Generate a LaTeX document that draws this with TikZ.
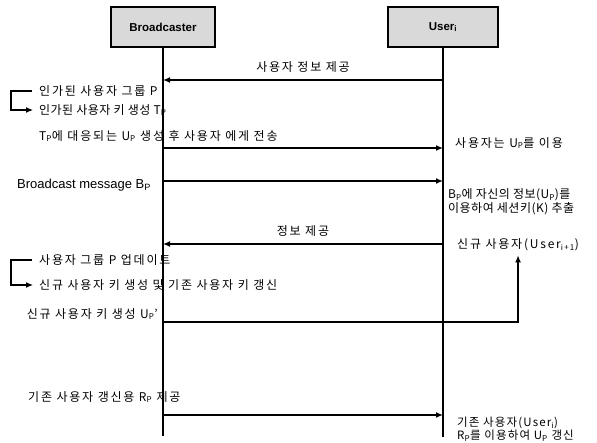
\documentclass[tikz,border=0pt]{standalone}
\usepackage{fontspec}
\setmainfont[LetterSpace=15]{Noto Sans CJK KR}
\newfontfamily\boxfont{Liberation Sans}
\usetikzlibrary{arrows.meta}

\begin{document}
\begin{tikzpicture}[x=1pt,y=-1pt,
    font=\fontsize{12}{12}\selectfont,
    actor/.style={draw, line width=1.3pt, fill=gray!30, minimum height=40pt,
      font=\boxfont\bfseries\fontsize{11.5}{13}\selectfont},
    life/.style={line width=1.1pt},
    msg/.style={line width=1.5pt, -{Latex[length=7pt,width=6pt]}},
    txt/.style={anchor=west, inner sep=0pt},
    tight/.style={font=\fontsize{12}{12}\selectfont\addfontfeature{LetterSpace=4}}]
    \useasboundingbox (0,0) rectangle (597,442);
    % participants
    \node[actor, minimum width=104pt] (bc) at (163,27) {Broadcaster};
    \node[actor, minimum width=110pt] (us) at (443,27) {User\textsubscript{i}};
    \coordinate (bend) at (163,436);
    \coordinate (uend) at (443,437);
    \draw[life] (bc) -- (bend);
    \draw[life] (us) -- (uend);
    % user info
    \coordinate (u1) at (443,80);
    \coordinate (b1) at (163,80);
    \draw[msg] (u1) -- (b1) node[midway, above=3pt] (m1) {사용자 정보 제공};
    \node[txt] (g1) at (39,91) {인가된 사용자 그룹 P};
    \node[txt, tight] (g2) at (39,110) {인가된 사용자 키 생성 T\textsubscript{P}};
    \draw[msg, line width=1.2pt] (g1.west) ++(-7,0) -- ++(-21,0) |- ([xshift=-6pt]g2.west);
    % send U_P
    \node[txt] (t3) at (39,136) {T\textsubscript{P}에 대응되는 U\textsubscript{P} 생성 후 사용자 에게 전송};
    \coordinate (b3) at (163,148);
    \coordinate (u3) at (443,148);
    \draw[msg] (b3) -- (u3);
    \node[txt] (r3) at (455,143) {사용자는 U\textsubscript{P}를 이용};
    % broadcast
    \node[txt, font=\boxfont\fontsize{13}{13}\selectfont] (t4) at (17,185) {Broadcast message B\textsubscript{P}};
    \coordinate (b4) at (163,181);
    \coordinate (u4) at (443,181);
    \draw[msg] (b4) -- (u4);
    \node[txt, tight, align=left] (r4) at (448,202)
      {B\textsubscript{P}에 자신의 정보(U\textsubscript{P})를\\[1pt]이용하여 세션키(K) 추출};
    % new user
    \coordinate (u5) at (443,244);
    \coordinate (b5) at (163,244);
    \draw[msg] (u5) -- (b5) node[midway, above=3pt] (m5) {정보 제공};
    \node[txt] (nu) at (457,245) {신규 사용자(User\textsubscript{i+1})};
    \node[txt] (g3) at (39,260) {사용자 그룹 P 업데이트};
    \node[txt] (g4) at (39,285) {신규 사용자 키 생성 및 기존 사용자 키 갱신};
    \draw[msg, line width=1.2pt] (g3.west) ++(-7,0) -- ++(-21,0) |- ([xshift=-6pt]g4.west);
    % new key
    \node[txt, anchor=east] (t7) at (158,314) {신규 사용자 키 생성 U\textsubscript{P}'};
    \coordinate (b7) at (163,322);
    \draw[msg] (b7) -| ([yshift=-4pt]nu.south);
    % update
    \node[txt] (t8) at (28,397) {기존 사용자 갱신용 R\textsubscript{P} 제공};
    \coordinate (b8) at (163,415);
    \coordinate (u8) at (443,415);
    \draw[msg] (b8) -- (u8);
    \node[txt, tight, align=left, font=\fontsize{11.5}{11.5}\selectfont\addfontfeature{LetterSpace=10}] (r8) at (457,429)
      {기존 사용자(User\textsubscript{i})\\R\textsubscript{P}를 이용하여 U\textsubscript{P} 갱신};
\end{tikzpicture}
\end{document}
